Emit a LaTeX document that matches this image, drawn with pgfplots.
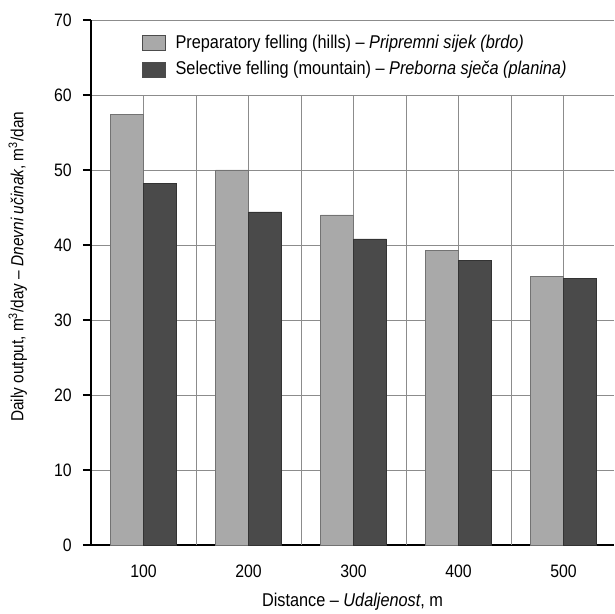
\documentclass[border=0pt]{standalone}
\usepackage{fontspec}
\setmainfont{Liberation Sans}[FakeStretch=0.88]
\usepackage{pgfplots}
\pgfplotsset{compat=1.18}
\definecolor{lightbar}{HTML}{A9A9A9}
\definecolor{darkbar}{HTML}{4A4A4A}
\definecolor{gridc}{HTML}{8C8C8C}
\begin{document}
\fontsize{18}{21}\selectfont
\begin{tikzpicture}
\begin{axis}[
  scale only axis, width=523pt, height=525pt,
  xmin=0.5, xmax=5.48, ymin=0, ymax=70,
  ybar=0pt, bar width=33pt,
  axis x line*=bottom, axis y line*=left,
  axis line style={black, line width=1.3pt, -},
  xtick={1,2,3,4,5}, xticklabels={100,200,300,400,500},
  xtick style={draw=none},
  extra x ticks={0.5,1.5,2.5,3.5,4.5},
  extra x tick labels={},
  extra x tick style={grid=none, tick style={draw=black, line width=1.3pt}, major tick length=9pt},
  ytick={0,10,...,70},
  ytick style={draw=black, line width=1.3pt},
  tick align=outside, major tick length=8pt,
  ymajorgrids, grid style={gridc, line width=0.9pt},
  /pgf/number format/assume math mode=true,
  ticklabel style={font=\fontsize{18}{21}\selectfont},
  xticklabel style={yshift=-6pt},
  yticklabel style={xshift=-5pt},
  xlabel={Distance -- \textit{Udaljenost}, m},
  ylabel={Daily output, m\textsuperscript{3}/day -- \textit{Dnevni učinak}, m\textsuperscript{3}/dan},
  every axis x label/.style={at={(axis description cs:0.5,0)}, yshift=-57pt, anchor=center, font=\fontsize{18.5}{21}\selectfont},
  every axis y label/.style={at={(axis description cs:-0.14,0.53)}, rotate=90, anchor=center, font=\fontsize{17.5}{21}\selectfont},
  legend style={at={(axis description cs:0.0975,0.975)}, anchor=north west, draw=none, fill=none,
     inner sep=0pt, row sep=6pt, font=\fontsize{18.5}{21}\selectfont},
  legend cell align=left,
  legend image code/.code={\draw[#1, draw=black!70, line width=0.8pt] (0pt,-7.5pt) rectangle (23pt,7.5pt); \path[draw=none, fill=none] (0pt,0pt) -- (31pt,0pt);},
]
\pgfplotsinvokeforeach{1,1.5,2,2.5,3,3.5,4,4.5,5}{\draw[gridc, line width=0.9pt] (axis cs:#1,0) -- (axis cs:#1,60);}
\addplot[fill=lightbar, draw=black!55, line width=0.8pt] coordinates {(1,57.4) (2,50.0) (3,44.0) (4,39.3) (5,35.8)};
\addplot[fill=darkbar, draw=black!80, line width=0.8pt] coordinates {(1,48.2) (2,44.4) (3,40.8) (4,37.9) (5,35.5)};
\legend{Preparatory felling (hills) -- \textit{Pripremni sijek (brdo)}, Selective felling (mountain) -- \textit{Preborna sječa (planina)}}
\coordinate (BL) at (rel axis cs:0,0);
\coordinate (TR) at (rel axis cs:1,1);
\end{axis}
\pgfresetboundingbox
\useasboundingbox ([xshift=-91pt,yshift=-69pt]BL) rectangle ([yshift=20pt]TR);
\end{tikzpicture}
\end{document}
